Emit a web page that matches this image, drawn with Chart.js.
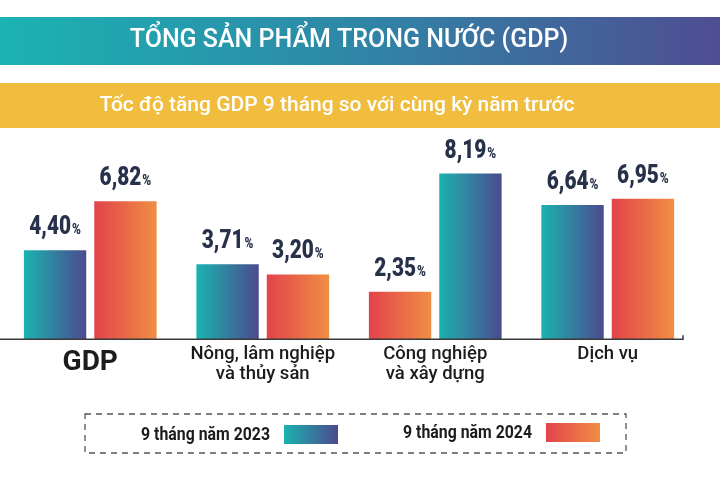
<!DOCTYPE html>
<html>
<head>
<meta charset="utf-8">
<script src="https://cdn.jsdelivr.net/npm/chart.js@4.4.1/dist/chart.umd.min.js"></script>
<style>
html,body{margin:0;padding:0;background:#ffffff;}
#wrap{width:720px;height:480px;position:relative;}
</style>
</head>
<body>
<div id="wrap"><canvas id="c" width="720" height="480"></canvas></div>
<script>
// ---- data ----
const categories = [['GDP'], ['Nông, lâm nghiệp', 'và thủy sản'], ['Công nghiệp', 'và xây dựng'], ['Dịch vụ']];
const seriesNames = ['9 tháng năm 2023', '9 tháng năm 2024'];
const values2023 = [4.40, 3.71, 2.35, 6.64];
const values2024 = [6.82, 3.20, 8.19, 6.95];
const titleText = 'TỔNG SẢN PHẨM TRONG NƯỚC (GDP)';
const subtitleText = 'Tốc độ tăng GDP 9 tháng so với cùng kỳ năm trước';

// ---- styles ----
const TEAL = ['#1bb2ae', '#4c4a8f'];
const ORANGE = ['#e2434b', '#f08e44'];
const swappedGroups = [false, false, true, false]; // reference shows colours swapped in the 3rd group
const CAT_PCT = 0.816, BAR_PCT = 0.886;
const FONT = 'Roboto, "Liberation Sans", sans-serif';

function paletteFor(dsIndex, dataIndex) {
  let teal = dsIndex === 0;
  if (dataIndex !== undefined && swappedGroups[dataIndex]) teal = !teal;
  return teal ? TEAL : ORANGE;
}

function barFill(ctx) {
  const pal = paletteFor(ctx.datasetIndex, ctx.dataIndex);
  const chart = ctx.chart;
  const xs = chart.scales && chart.scales.x;
  if (ctx.dataIndex === undefined || !xs || !xs.width) return pal[0];
  const n = chart.data.labels.length;
  const slot = (xs.width / n) * CAT_PCT / 2;
  const cx = xs.getPixelForValue(ctx.dataIndex) + (ctx.datasetIndex - 0.5) * slot;
  const half = slot * BAR_PCT / 2;
  const g = chart.ctx.createLinearGradient(cx - half, 0, cx + half, 0);
  g.addColorStop(0, pal[0]);
  g.addColorStop(1, pal[1]);
  return g;
}

function fmt(v) { return v.toFixed(2).replace('.', ','); }

const decorPlugin = {
  id: 'decor',
  beforeDraw(chart) {
    const c = chart.ctx, W = chart.width;
    c.save();
    const g = c.createLinearGradient(0, 0, W, 0);
    g.addColorStop(0, '#1bb3b3');
    g.addColorStop(0.5, '#2f86a6');
    g.addColorStop(1, '#4f4d93');
    c.fillStyle = g;
    c.fillRect(0, 17, W, 48);
    c.fillStyle = '#f1bd3e';
    c.fillRect(0, 83, W, 45);
    // subtitle text in the yellow band
    c.fillStyle = '#ffffff';
    c.font = '500 21px ' + FONT;
    c.textAlign = 'center';
    c.textBaseline = 'middle';
    c.fillText(subtitleText, 337, 106);
    c.restore();
  },
  afterDatasetsDraw(chart) {
    const c = chart.ctx;
    c.save();
    c.fillStyle = '#27324a';
    c.textBaseline = 'alphabetic';
    const sx = 0.8;
    chart.data.datasets.forEach((ds, di) => {
      const meta = chart.getDatasetMeta(di);
      meta.data.forEach((el, i) => {
        const num = fmt(ds.data[i]);
        c.font = '900 26px ' + FONT;
        const w1 = c.measureText(num).width * sx;
        c.font = '900 15px ' + FONT;
        const w2 = c.measureText('%').width * sx;
        const left = el.x - (w1 + w2 + 1) / 2;
        const y = el.y - 16;
        c.save();
        c.translate(left, y);
        c.scale(sx, 1);
        c.font = '900 26px ' + FONT;
        c.fillText(num, 0, 0);
        c.font = '900 15px ' + FONT;
        c.fillText('%', (w1 + 1) / sx, 0);
        c.restore();
      });
    });
    c.restore();
  },
  afterDraw(chart) {
    const c = chart.ctx;
    const area = chart.chartArea;
    c.save();
    // axis line
    c.strokeStyle = '#3a3a3a';
    c.lineWidth = 1.5;
    c.beginPath();
    c.moveTo(0, area.bottom);
    c.lineTo(683, area.bottom);
    c.lineTo(683, area.bottom - 4);
    c.stroke();
    // legend frame
    c.strokeStyle = '#555';
    c.lineWidth = 1.3;
    c.setLineDash([6, 5]);
    c.strokeRect(85, 414, 541, 39);
    c.setLineDash([]);
    // legend items
    const items = [
      {textRight: 270, sw: [284, 425, 54, 19]},
      {textRight: 532, sw: [546, 423, 54, 19]}
    ];
    chart.data.datasets.forEach((ds, di) => {
      const it = items[di];
      const pal = paletteFor(di);
      const [x, y, w, h] = it.sw;
      const g = c.createLinearGradient(x, 0, x + w, 0);
      g.addColorStop(0, pal[0]);
      g.addColorStop(1, pal[1]);
      c.fillStyle = g;
      c.fillRect(x, y, w, h);
      c.save();
      c.font = 'bold 18px ' + FONT;
      const sx = 0.88;
      const tw = c.measureText(ds.label).width * sx;
      c.translate(it.textRight - tw, y + h / 2 + 1);
      c.scale(sx, 1);
      c.fillStyle = '#1c1c1c';
      c.textBaseline = 'middle';
      c.fillText(ds.label, 0, 0);
      c.restore();
    });
    c.restore();
  }
};

new Chart(document.getElementById('c'), {
  type: 'bar',
  data: {
    labels: categories,
    datasets: [
      {label: seriesNames[0], data: values2023, backgroundColor: barFill, categoryPercentage: CAT_PCT, barPercentage: BAR_PCT},
      {label: seriesNames[1], data: values2024, backgroundColor: barFill, categoryPercentage: CAT_PCT, barPercentage: BAR_PCT}
    ]
  },
  options: {
    responsive: false,
    animation: false,
    events: [],
    layout: {padding: {left: 4, right: 26, top: 0, bottom: 90}},
    plugins: {
      legend: {display: false},
      tooltip: {enabled: false},
      title: {
        display: true, text: titleText, color: '#ffffff',
        font: {family: FONT, size: 25, weight: '500', lineHeight: 1.2},
        padding: {top: 26, bottom: 83}
      },
      subtitle: {display: false}
    },
    scales: {
      x: {
        grid: {display: false, drawTicks: false},
        border: {display: false},
        ticks: {
          color: '#1c1c1c',
          padding: 6,
          font: (ctx) => ctx.index === 0
            ? {family: FONT, size: 28, weight: 'bold', lineHeight: 1.3}
            : {family: FONT, size: 18.5, weight: '500', lineHeight: 1.05}
        }
      },
      y: {display: false, min: 0, max: 9.9}
    }
  },
  plugins: [decorPlugin]
});
</script>
</body>
</html>
